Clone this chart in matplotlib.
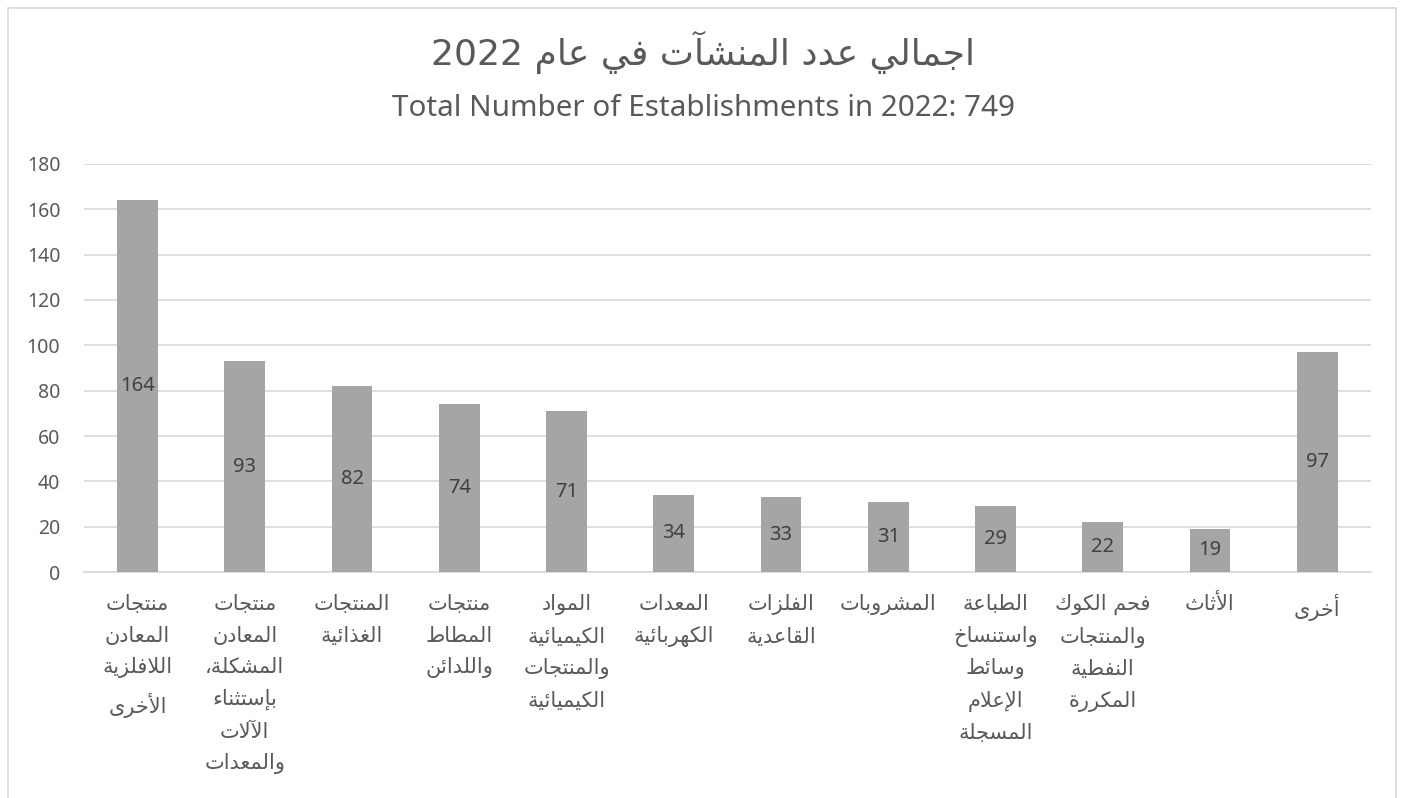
import matplotlib
matplotlib.use("Agg")
import matplotlib.pyplot as plt
from matplotlib.patches import Rectangle

# --- data ---
title_ar = "اجمالي عدد المنشآت في عام 2022"
subtitle = "Total Number of Establishments in 2022: 749"
categories = [
    "منتجات\nالمعادن\nاللافلزية\nالأخرى",
    "منتجات\nالمعادن\nالمشكلة،\nبإستثناء\nالآلات\nوالمعدات",
    "المنتجات\nالغذائية",
    "منتجات\nالمطاط\nواللدائن",
    "المواد\nالكيميائية\nوالمنتجات\nالكيميائية",
    "المعدات\nالكهربائية",
    "الفلزات\nالقاعدية",
    "المشروبات",
    "الطباعة\nواستنساخ\nوسائط\nالإعلام\nالمسجلة",
    "فحم الكوك\nوالمنتجات\nالنفطية\nالمكررة",
    "الأثاث",
    "أخرى",
]
counts = [164, 93, 82, 74, 71, 34, 33, 31, 29, 22, 19, 97]
y_ticks = [0, 20, 40, 60, 80, 100, 120, 140, 160, 180]

# --- minimal arabic shaping (no arabic_reshaper / bidi offline) ---
# letter -> (base code in presentation forms B, dual joining?)
FORMS = {
    "ء": (0xFE80, None), "آ": (0xFE81, False), "أ": (0xFE83, False),
    "ؤ": (0xFE85, False), "إ": (0xFE87, False), "ئ": (0xFE89, True),
    "ا": (0xFE8D, False), "ب": (0xFE8F, True), "ة": (0xFE93, False),
    "ت": (0xFE95, True), "ث": (0xFE99, True), "ج": (0xFE9D, True),
    "ح": (0xFEA1, True), "خ": (0xFEA5, True), "د": (0xFEA9, False),
    "ذ": (0xFEAB, False), "ر": (0xFEAD, False), "ز": (0xFEAF, False),
    "س": (0xFEB1, True), "ش": (0xFEB5, True), "ص": (0xFEB9, True),
    "ض": (0xFEBD, True), "ط": (0xFEC1, True), "ظ": (0xFEC5, True),
    "ع": (0xFEC9, True), "غ": (0xFECD, True), "ف": (0xFED1, True),
    "ق": (0xFED5, True), "ك": (0xFED9, True), "ل": (0xFEDD, True),
    "م": (0xFEE1, True), "ن": (0xFEE5, True), "ه": (0xFEE9, True),
    "و": (0xFEED, False), "ى": (0xFEEF, False), "ي": (0xFEF1, True),
    "\uFEF5": (0xFEF5, False), "\uFEF7": (0xFEF7, False),
    "\uFEF9": (0xFEF9, False), "\uFEFB": (0xFEFB, False),
}
LAM_ALEF = {"آ": "\uFEF5", "أ": "\uFEF7", "إ": "\uFEF9", "ا": "\uFEFB"}


def shape_word(word):
    chars = []
    i = 0
    while i < len(word):
        if word[i] == "ل" and i + 1 < len(word) and word[i + 1] in LAM_ALEF:
            chars.append(LAM_ALEF[word[i + 1]])
            i += 2
        else:
            chars.append(word[i])
            i += 1
    out = []
    for k, c in enumerate(chars):
        if c not in FORMS:
            out.append(c)
            continue
        base, dual = FORMS[c]
        prev = chars[k - 1] if k > 0 else None
        nxt = chars[k + 1] if k + 1 < len(chars) else None
        join_prev = prev in FORMS and FORMS[prev][1] is True and dual is not None
        join_next = dual is True and nxt in FORMS and FORMS[nxt][1] is not None
        if join_prev and join_next:
            code = base + 3
        elif join_prev:
            code = base + 1
        elif join_next:
            code = base + 2
        else:
            code = base
        out.append(chr(code))
    return "".join(out)


def rtl(text):
    lines = []
    for line in text.split("\n"):
        words = []
        for w in line.split(" "):
            if any("\u0600" <= ch <= "\u06FF" for ch in w):
                words.append(shape_word(w)[::-1])
            else:
                words.append(w)
        lines.append(" ".join(reversed(words)))
    return "\n".join(lines)


AR_FONT = ["DejaVu Sans"]
plt.rcParams["font.family"] = ["Noto Sans", "DejaVu Sans"]

fig = plt.figure(figsize=(14.06, 7.98), dpi=100)
ax = fig.add_axes([0.0597, 0.2832, 0.9153, 0.5113])

x = range(len(categories))
bars = ax.bar(x, counts, width=0.38, color="#A5A5A5", zorder=3)
for b, v in zip(bars, counts):
    ax.text(b.get_x() + b.get_width() / 2, v / 2, str(v), ha="center", va="center",
            fontsize=14.5, color="#404040", zorder=4)

ax.set_xlim(-0.5, len(categories) - 0.5)
ax.set_ylim(0, 180)
ax.set_yticks(y_ticks)
ax.set_yticklabels([str(t) for t in y_ticks], fontsize=14, color="#595959")
ax.tick_params(axis="y", length=0, pad=17)
ax.tick_params(axis="x", length=0, pad=16)
ax.set_xticks(list(x))
ax.set_xticklabels([rtl(c) for c in categories], fontsize=15, color="#595959",
                   family=AR_FONT, linespacing=1.72, va="top")
ax.grid(axis="y", color="#D9D9D9", linewidth=1.2, zorder=0)
for s in ["top", "right", "left"]:
    ax.spines[s].set_visible(False)
ax.spines["bottom"].set_color("#D9D9D9")
ax.spines["bottom"].set_linewidth(1.2)

fig.text(0.5, 1 - 52 / 798, rtl(title_ar), ha="center", va="center",
         fontsize=26, color="#595959", family=AR_FONT)
fig.text(0.5, 1 - 108 / 798, subtitle, ha="center", va="center",
         fontsize=21.3, color="#595959")

fig.patches.append(Rectangle((8 / 1406, -0.02), 1388 / 1406, 1.02 - 8 / 798,
                             transform=fig.transFigure, fill=False,
                             edgecolor="#D9D9D9", linewidth=1.2))

fig.savefig("out.png", dpi=100)
